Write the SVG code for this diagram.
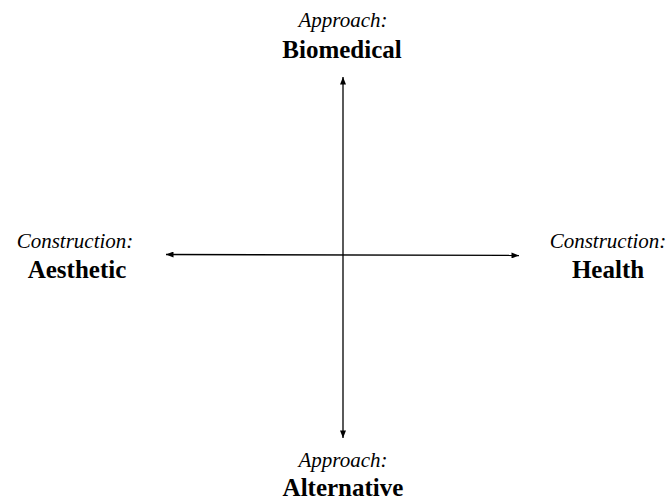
<svg xmlns="http://www.w3.org/2000/svg" width="670" height="500" viewBox="0 0 670 500">
<style>
text{font-family:'Liberation Serif','Times New Roman',serif;text-anchor:middle;fill:#000}
.it{font-style:italic;font-size:21px}
.bd{font-weight:bold;font-size:25px}
.ax{stroke:#000;stroke-width:1.3;fill:none;marker-end:url(#ah);marker-start:url(#ahs)}
</style>
<defs>
<marker id="ah" viewBox="0 0 10 8" refX="10" refY="4" markerWidth="8" markerHeight="6" markerUnits="userSpaceOnUse" orient="auto"><path d="M0,0 L10,4 L0,8 z" fill="#000"/></marker>
<marker id="ahs" viewBox="0 0 10 8" refX="0" refY="4" markerWidth="8" markerHeight="6" markerUnits="userSpaceOnUse" orient="auto"><path d="M10,0 L0,4 L10,8 z" fill="#000"/></marker>
</defs>
<g id="connectors">
<line class="ax" x1="343" y1="438" x2="343" y2="77"/>
<line class="ax" x1="166" y1="254.5" x2="519" y2="255.5"/>
</g>
<g id="top"><text class="it" x="343" y="27">Approach:</text><text class="bd" x="342" y="58">Biomedical</text></g>
<g id="left"><text class="it" x="75" y="248">Construction:</text><text class="bd" x="77" y="278">Aesthetic</text></g>
<g id="right"><text class="it" x="608" y="248">Construction:</text><text class="bd" x="608" y="278">Health</text></g>
<g id="bottom"><text class="it" x="343" y="467">Approach:</text><text class="bd" x="343" y="496">Alternative</text></g>
</svg>
